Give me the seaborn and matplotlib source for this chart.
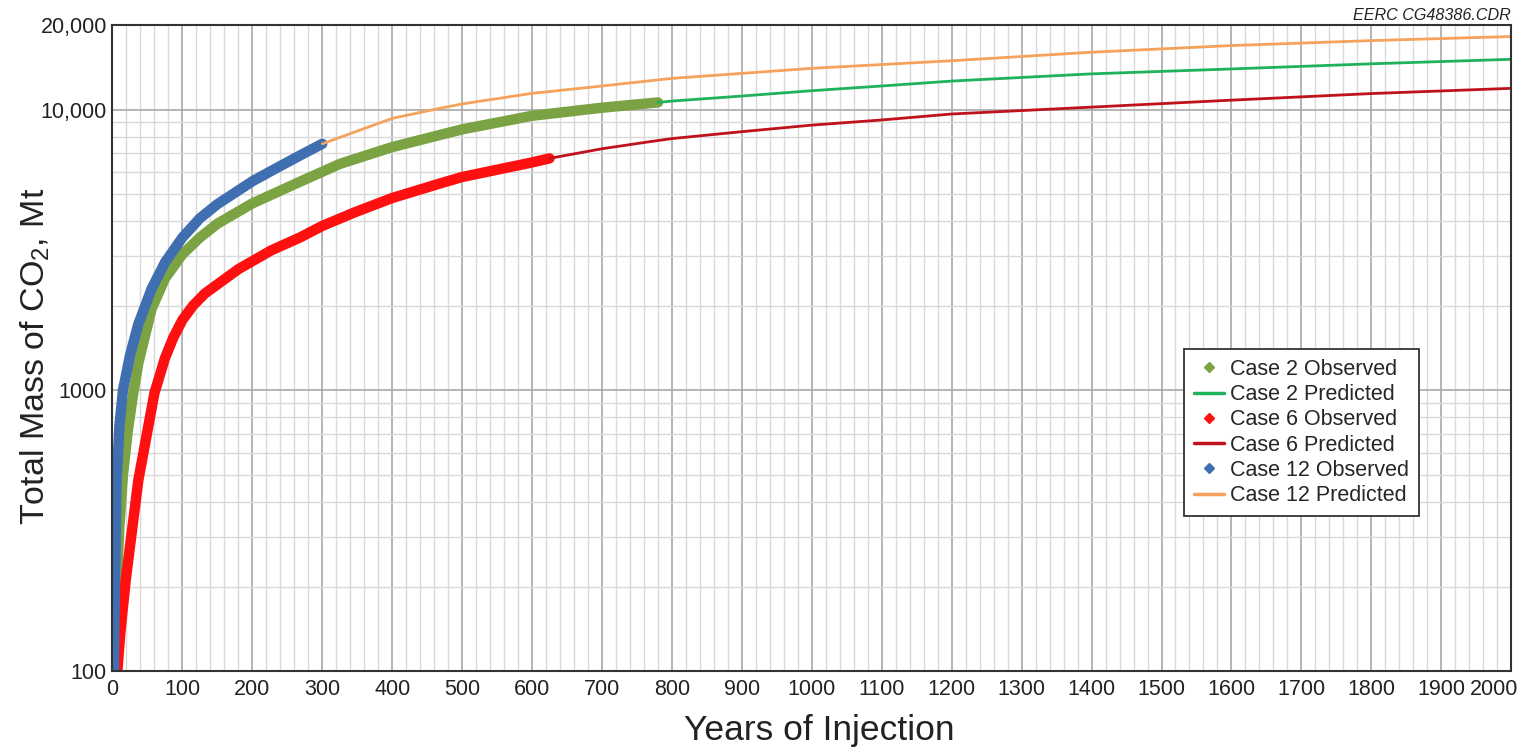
import numpy as np
import pandas as pd
import matplotlib
matplotlib.use("Agg")
import matplotlib.pyplot as plt
import matplotlib.transforms as mtransforms
import seaborn as sns
from matplotlib.ticker import FixedLocator, FuncFormatter, LogLocator, MultipleLocator, NullFormatter
from matplotlib.lines import Line2D

# ---- data ----
c12_obs_x = [2, 3.5, 6, 10, 15, 25, 37, 56, 75, 100, 125, 150, 200, 230, 270, 300]
c12_obs_y = [100, 210, 480, 750, 1000, 1330, 1720, 2300, 2850, 3500, 4100, 4600, 5550, 6100, 6900, 7550]
c12_pred_x = [300, 400, 468, 500, 600, 700, 800, 1000, 1200, 1400, 1600, 1800, 2000]
c12_pred_y = [7550, 9300, 10100, 10470, 11420, 12130, 12910, 14020, 14920, 16000, 16900, 17600, 18200]

c2_obs_x = [3, 6, 10, 15, 22, 29, 37, 56, 75, 100, 125, 150, 200, 268, 325, 400, 500, 600, 700, 780]
c2_obs_y = [100, 200, 330, 500, 720, 950, 1250, 1950, 2500, 3050, 3500, 3920, 4630, 5530, 6400, 7350, 8500, 9500, 10150, 10600]
c2_pred_x = [780, 800, 900, 1000, 1100, 1200, 1400, 1600, 1800, 2000]
c2_pred_y = [10600, 10720, 11170, 11670, 12130, 12630, 13400, 13950, 14550, 15100]

c6_obs_x = [7, 11, 19, 37, 60, 75, 87, 100, 115, 132, 180, 227, 268, 300, 346, 400, 468, 500, 600, 625]
c6_obs_y = [100, 135, 211, 478, 977, 1300, 1540, 1780, 2000, 2210, 2700, 3150, 3500, 3850, 4300, 4840, 5450, 5750, 6480, 6700]
c6_pred_x = [625, 700, 768, 800, 900, 1000, 1100, 1200, 1400, 1600, 1800, 2000]
c6_pred_y = [6700, 7250, 7680, 7880, 8340, 8800, 9180, 9640, 10200, 10800, 11400, 11900]

labels = ["Case 2 Observed", "Case 2 Predicted", "Case 6 Observed",
          "Case 6 Predicted", "Case 12 Observed", "Case 12 Predicted"]
colors = ["#7ba344", "#20b25a", "#ff1010", "#c0121c", "#3f6fb0", "#f4a25c"]

x_ticks = list(range(0, 2001, 100))
y_ticks = [100, 1000, 10000, 20000]
y_tick_labels = ["100", "1000", "10,000", "20,000"]

sns.set_style("white")
plt.rcParams['font.family'] = ['Liberation Sans', 'DejaVu Sans']
plt.rcParams['mathtext.default'] = 'regular'

fig = plt.figure(figsize=(15.28, 7.56), dpi=100)
ax = fig.add_axes([0.0736, 0.1124, 0.9154, 0.8545])

ax.set_yscale("log")
ax.set_xlim(0, 2000)
ax.set_ylim(100, 20000)

# grid
ax.xaxis.set_major_locator(FixedLocator(x_ticks))
ax.xaxis.set_minor_locator(MultipleLocator(20))
ax.yaxis.set_major_locator(FixedLocator(y_ticks))
lab_map = dict(zip(y_ticks, y_tick_labels))
ax.yaxis.set_major_formatter(FuncFormatter(lambda v, p: lab_map.get(int(round(v)), "")))
ax.yaxis.set_minor_locator(LogLocator(base=10, subs=np.arange(2, 10)))
ax.yaxis.set_minor_formatter(NullFormatter())
ax.grid(which="major", color="#a8a8a8", linewidth=1.2)
ax.grid(which="minor", color="#d9d9d9", linewidth=1.0)
ax.set_axisbelow(True)

series = [
    (c2_obs_x, c2_obs_y, colors[0], 7.5),
    (c6_obs_x, c6_obs_y, colors[2], 7.5),
    (c12_obs_x, c12_obs_y, colors[4], 7.5),
    (c2_pred_x, c2_pred_y, colors[1], 2.0),
    (c6_pred_x, c6_pred_y, colors[3], 2.0),
    (c12_pred_x, c12_pred_y, colors[5], 2.0),
]
for xs, ys, col, lw in series:
    df = pd.DataFrame({"x": xs, "y": ys})
    sns.lineplot(data=df, x="x", y="y", ax=ax, color=col, linewidth=lw,
                 solid_capstyle="round", solid_joinstyle="round", legend=False)

ax.tick_params(axis="both", which="major", labelsize=15.5, colors="#222222",
               length=2.5, width=1, direction="out")
ax.tick_params(axis="both", which="minor", length=0)
ax.tick_params(axis="x", pad=3)
ax.tick_params(axis="y", pad=1.5)
for s in ax.spines.values():
    s.set_color("#333333")
    s.set_linewidth(1.5)

ax.set_xlabel("Years of Injection", fontsize=25.5, color="#222222")
ax.set_ylabel("Total Mass of CO$_2$, Mt", fontsize=24.5, color="#222222")
ax.xaxis.set_label_coords(0.505, -0.066)
ax.yaxis.set_label_coords(-0.043, 0.487)

# shift last x tick label so it stays inside the figure, as in the reference
last = ax.get_xticklabels()[-1]
last.set_transform(last.get_transform() +
                   mtransforms.ScaledTranslation(-12 / 72, 0, fig.dpi_scale_trans))

handles = []
for lab, col in zip(labels, colors):
    if "Observed" in lab:
        handles.append(Line2D([0], [0], linestyle="none", marker="D", markersize=5.5,
                              color=col, label=lab))
    else:
        handles.append(Line2D([0], [0], color=col, linewidth=2.5, label=lab))
leg = ax.legend(handles=handles, loc="lower left", bbox_to_anchor=(0.766, 0.240),
                borderaxespad=0, fontsize=15.5, frameon=True, fancybox=False,
                handlelength=1.4, handletextpad=0.3, labelspacing=0.2,
                borderpad=0.45, framealpha=1)
leg.get_frame().set_edgecolor("#333333")
leg.get_frame().set_linewidth(1.3)

fig.text(0.989, 0.979, "EERC CG48386.CDR", ha="right", va="center",
         fontsize=11.6, style="italic", color="#222222")

fig.savefig("out.png", dpi=100)
